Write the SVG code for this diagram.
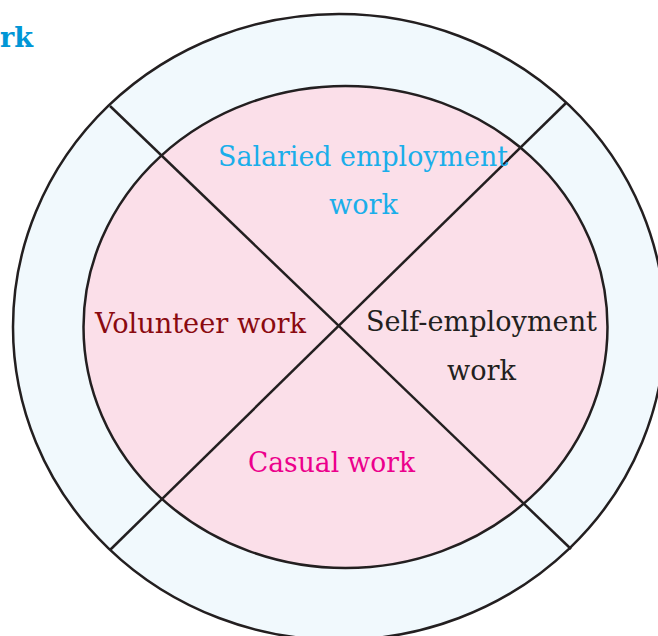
<svg xmlns="http://www.w3.org/2000/svg" width="658" height="636" viewBox="0 0 658 636">
<style>
.ln{stroke:#231f20;stroke-width:2.5;fill:none}
.t{font-family:"DejaVu Serif","Liberation Serif",serif;font-size:28px}
</style>
<rect width="658" height="636" fill="#ffffff"/>
<text x="0" y="47" style="font-family:'DejaVu Serif','Liberation Serif',serif;font-size:28px;font-weight:bold" fill="#0096d6" textLength="33" lengthAdjust="spacingAndGlyphs">rk</text>
<g id="outer-ring">
<ellipse cx="339" cy="327" rx="326" ry="313" class="ln" style="fill:#f1f9fd"/>
</g>
<g id="inner-circle">
<ellipse cx="345.5" cy="327" rx="262" ry="241" class="ln" style="fill:#fbdfe9"/>
</g>
<g id="connectors">
<line class="ln" x1="110" y1="106" x2="571" y2="549"/>
<line class="ln" x1="566" y1="103" x2="110" y2="550"/>
</g>
<g id="salaried">
<text class="t" x="363" y="166" text-anchor="middle" fill="#1aaeea" textLength="290" lengthAdjust="spacingAndGlyphs">Salaried employment</text>
<text class="t" x="363.5" y="214" text-anchor="middle" fill="#1aaeea" textLength="69" lengthAdjust="spacingAndGlyphs">work</text>
</g>
<g id="volunteer">
<text class="t" x="200.5" y="333" text-anchor="middle" fill="#8a0a10" textLength="211" lengthAdjust="spacingAndGlyphs">Volunteer work</text>
</g>
<g id="self-employment">
<text class="t" x="481.5" y="331" text-anchor="middle" fill="#231f20" textLength="231" lengthAdjust="spacingAndGlyphs">Self-employment</text>
<text class="t" x="481.5" y="380" text-anchor="middle" fill="#231f20" textLength="69" lengthAdjust="spacingAndGlyphs">work</text>
</g>
<g id="casual">
<text class="t" x="331.5" y="472" text-anchor="middle" fill="#ec008c" textLength="167" lengthAdjust="spacingAndGlyphs">Casual work</text>
</g>
</svg>
